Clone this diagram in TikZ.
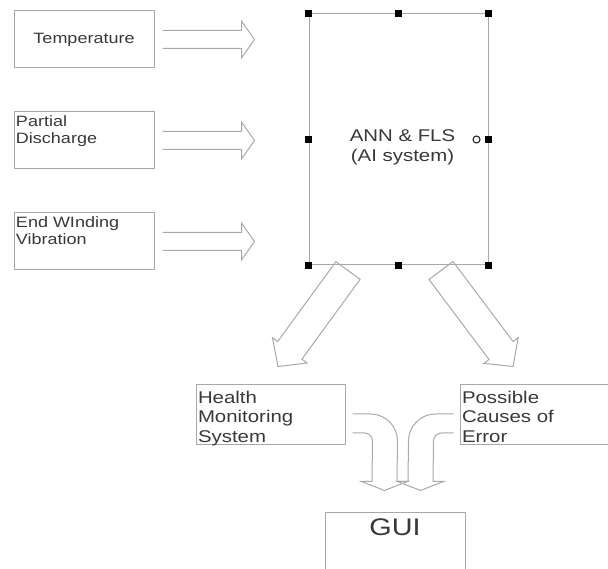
\documentclass[tikz,border=0pt]{standalone}
\usepackage{fontspec}
\setmainfont{Liberation Sans}[FakeStretch=1.2]
\usetikzlibrary{calc,positioning}
\definecolor{boxline}{HTML}{A8A8A8}
\definecolor{arrowline}{HTML}{A8A8A8}
\definecolor{labeltext}{HTML}{383838}

% text set from the top left corner of a box
\newcommand{\tltext}[3]{\parbox[c][#2][t]{#1}{\raggedright #3}}
% hollow block arrow: [end], from, tip, shaft half width, head half width, head length
\newcommand{\fatarrow}[6][]{%
  \coordinate (fa-base) at ($(#3)!#6!(#2)$);
  \draw[fatline] ($(#2)!#4!90:(#3)$) -- ($(fa-base)!#4!90:(#3)$) -- ($(fa-base)!#5!90:(#3)$) -- (#3)
    -- ($(fa-base)!#5!-90:(#3)$) -- ($(fa-base)!#4!-90:(#3)$) -- ($(#2)!#4!-90:(#3)$) #1;
}

\begin{document}
\begin{tikzpicture}[x=1pt, y=1pt,
  inbox/.style={draw=boxline, line width=1pt, text=labeltext, minimum width=140pt, minimum height=57pt, inner sep=0pt, font=\fontsize{15}{17}\selectfont},
  tlbox/.style={draw=boxline, line width=1pt, text=labeltext, inner xsep=2pt, inner ysep=4pt, font=\fontsize{15}{17}\selectfont},
  outbox/.style={tlbox, inner ysep=6pt, font=\fontsize{17}{19.5}\selectfont},
  guibox/.style={tlbox, inner ysep=7pt, font=\fontsize{24}{28}\selectfont},
  aibox/.style={draw=boxline, line width=1pt, minimum width=179pt, minimum height=251pt},
  handle/.style={fill=black, minimum size=7pt, inner sep=0pt},
  fatline/.style={draw=arrowline, line width=1pt, line join=miter}
]
\useasboundingbox (0,0) rectangle (608,568);

\node[inbox] (temp) at (84,528.5) {Temperature};
\node[tlbox, below=43pt of temp] (pd) {\tltext{136pt}{49pt}{Partial\\Discharge}};
\node[tlbox, below=43pt of pd] (ewv) {\tltext{136pt}{49pt}{End WInding\\Vibration}};

\node[aibox] (ann) at (398.5,428.5) {};
\node[text=labeltext, align=center, font=\fontsize{17}{20}\selectfont] (ann-txt) at ($(ann.center)+(4,-8)$) {ANN \& FLS\\(AI system)};
\foreach \a [count=\i] in {north west,north,north east,west,east,south west,south,south east}
  \node[handle] (hdl\i) at (ann.\a) {};
\node[circle, draw=black!85, line width=1.1pt, minimum size=7pt, inner sep=0pt] (rot) at ($(ann.east)+(-12,0)$) {};

\node[outbox] (hms) at (270.5,153) {\tltext{145pt}{48pt}{Health\\Monitoring\\System}};
\node[outbox, right=114pt of hms] (pce) {\tltext{144pt}{48pt}{Possible\\Causes of\\Error}};
\node[guibox] (gui) at (395,26) {\tltext{136pt}{46pt}{\centering GUI}};

% inputs into the AI system
\foreach \src in {temp,pd,ewv} {
  \coordinate (\src-a) at ($(\src.east)+(8,0)$);
  \coordinate (\src-b) at ($(\src.east -| ann.west)+(-54,0)$);
  \fatarrow{\src-a}{\src-b}{9pt}{18.5pt}{13pt}
}

% outputs of the AI system
\coordinate (hm-src) at ($(ann.south)+(-50.5,-5)$);
\coordinate (hm-tip) at ($(hms.north)+(7.5,18)$);
\fatarrow[-- cycle]{hm-src}{hm-tip}{15pt}{21.5pt}{20pt}
\coordinate (pc-src) at ($(ann.south)+(42.5,-5)$);
\coordinate (pc-tip) at ($(pce.north)+(-21,18)$);
\fatarrow[-- cycle]{pc-src}{pc-tip}{15pt}{21.5pt}{20pt}

% both results into the GUI
\coordinate (hm-hi) at ($(hms.east)+(7,1)$);
\coordinate (hm-lo) at ($(hms.east)+(7,-18)$);
\coordinate (gl) at ($(gui.north)+(-10.5,21)$);
\draw[fatline] (hm-hi) -- ++(18,0) arc[start angle=90, end angle=0, radius=27] -- ($(gl)+(12.5,9)$)
  -- ($(gl)+(23,9)$) -- (gl) -- ($(gl)+(-23,9)$) -- ($(gl)+(-12.5,9)$)
  -- ($(hm-lo)+(20,-8)$) arc[start angle=0, end angle=90, radius=8] -- (hm-lo);
\coordinate (pc-hi) at ($(pce.west)+(-6,1)$);
\coordinate (pc-lo) at ($(pce.west)+(-6,-18)$);
\coordinate (gr) at ($(gui.north)+(25.5,21)$);
\draw[fatline] (pc-hi) -- ++(-18,0) arc[start angle=90, end angle=180, radius=27] -- ($(gr)+(-12.5,9)$)
  -- ($(gr)+(-23,9)$) -- (gr) -- ($(gr)+(23,9)$) -- ($(gr)+(12.5,9)$)
  -- ($(pc-lo)+(-20,-8)$) arc[start angle=180, end angle=90, radius=8] -- (pc-lo);
\end{tikzpicture}
\end{document}
